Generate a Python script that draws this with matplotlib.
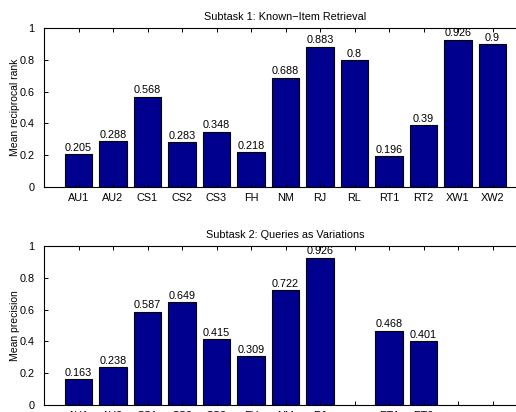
import numpy as np
import matplotlib
matplotlib.use("Agg")
import matplotlib.pyplot as plt

plt.rcParams['font.family'] = ['Liberation Sans', 'DejaVu Sans']

# run names
runs = ["AU1", "AU2", "CS1", "CS2", "CS3", "FH", "NM", "RJ", "RL", "RT1", "RT2", "XW1", "XW2"]

# Subtask 1: mean reciprocal rank
mrr = [0.205, 0.288, 0.568, 0.283, 0.348, 0.218, 0.688, 0.883, 0.8, 0.196, 0.39, 0.926, 0.9]

# Subtask 2: mean precision (no result for RL, XW1, XW2)
mp = [0.163, 0.238, 0.587, 0.649, 0.415, 0.309, 0.722, 0.926, None, 0.468, 0.401, None, None]

bar_color = (0, 0, 0.5625)
W, H = 516, 412

fig = plt.figure(figsize=(W / 100, H / 100), dpi=100)


def panel(top_px, values, title, ylabel):
    # axes run past the right edge of the figure, like the cropped original
    ax = fig.add_axes([44 / W, 1 - (top_px + 159) / H, 483 / W, 159 / H])
    pos = [i + 1 for i, v in enumerate(values) if v is not None]
    vals = [v for v in values if v is not None]
    ax.bar(pos, vals, width=0.8, color=bar_color, edgecolor='black', linewidth=0.8)
    for p, v in zip(pos, vals):
        ax.text(p, v + 0.008, f"{v:g}", ha='center', va='bottom', fontsize=7.8)
    ax.set_xlim(0, 14)
    ax.set_ylim(0, 1)
    ax.set_xticks(np.arange(1, 14))
    labels = [r if v is not None else "" for r, v in zip(runs, values)]
    ax.set_xticklabels(labels, fontsize=7.8)
    ax.set_yticks([0, 0.2, 0.4, 0.6, 0.8, 1])
    ax.set_yticklabels(["0", "0.2", "0.4", "0.6", "0.8", "1"], fontsize=7.8)
    ax.tick_params(direction='in', length=3, width=0.7, top=True, right=True, pad=4)
    ax.tick_params(axis='y', pad=7)
    for s in ax.spines.values():
        s.set_linewidth(0.8)
    ax.set_title(title, fontsize=7.8, pad=6)
    ax.set_ylabel(ylabel, fontsize=7.5)
    ax.yaxis.set_label_coords(-24 / 483, 0.5)
    return ax


panel(28, mrr, "Subtask 1: Known\u2212Item Retrieval", "Mean reciprocal rank")
panel(246, mp, "Subtask 2: Queries as Variations", "Mean precision")

fig.savefig("out.png", dpi=100)
